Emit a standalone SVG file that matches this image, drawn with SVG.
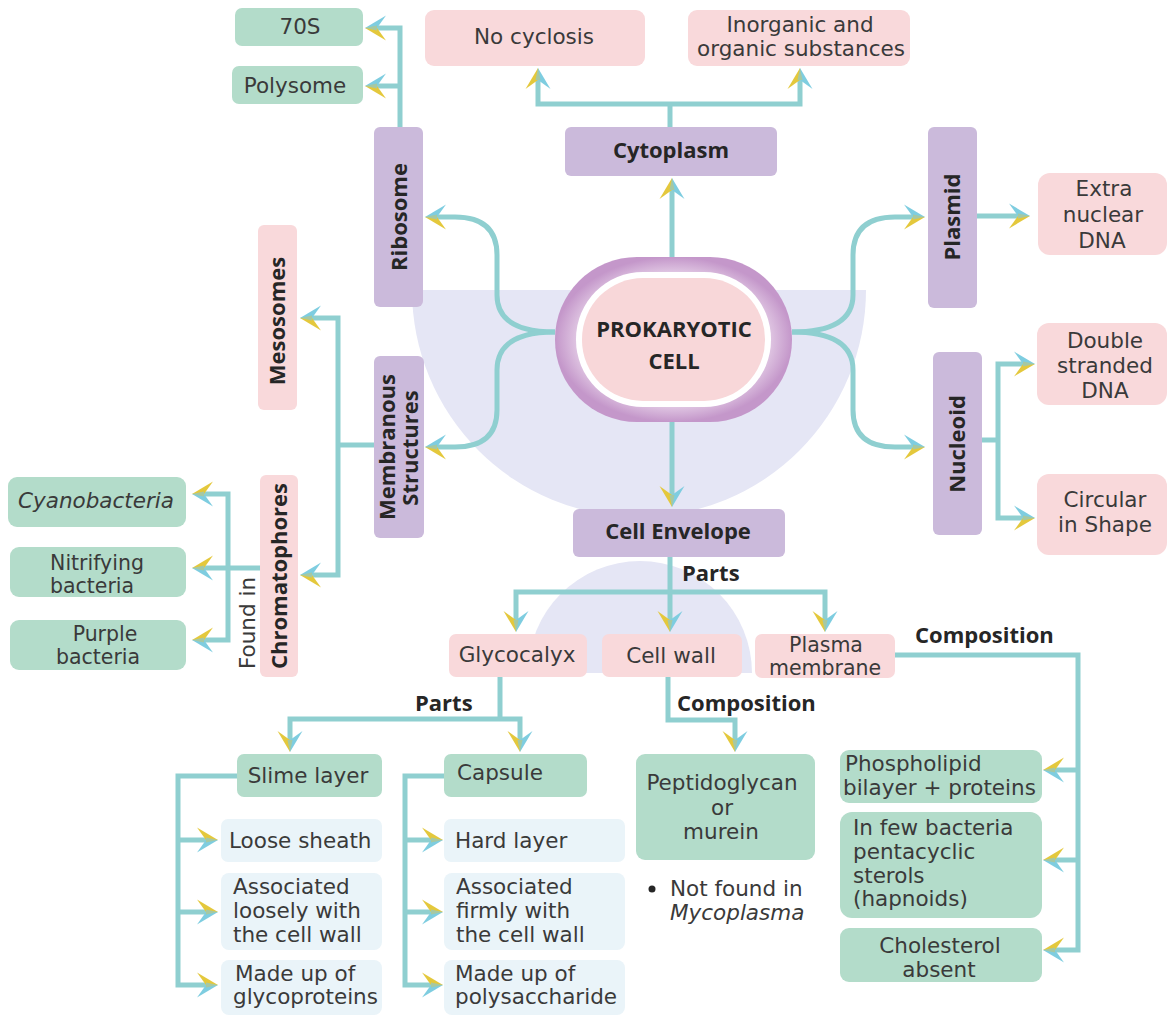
<svg xmlns="http://www.w3.org/2000/svg" width="1167" height="1015" viewBox="0 0 1167 1015">
<defs>
<style>
.t{font-family:"DejaVu Sans","Open Sans","Liberation Sans",sans-serif;font-size:21.5px;fill:#3a3a3a;}
.s{font-size:20.5px;}
.b{font-family:"Open Sans","Noto Sans","Liberation Sans",sans-serif;font-size:22px;font-weight:700;fill:#262626;}
.c{text-anchor:middle;}
.pu{fill:#cbbadb;}
.pk{fill:#f9d9db;}
.gr{fill:#b3dcca;}
.lb{fill:#eaf4f9;}
.ln{fill:none;stroke:#8fcfd0;stroke-width:5;stroke-linejoin:miter;}
</style>
<marker id="arrY" viewBox="-23 -14 25 28" markerWidth="25" markerHeight="28" refX="-10" refY="0" orient="auto" markerUnits="userSpaceOnUse">
<polygon points="0,0 -21,-12.5 -12,0" fill="#7ecde0"/>
<polygon points="0,0 -12,0 -21,12.5" fill="#e4c83c"/>
<polygon points="0,0 -12,-2.5 -12,2.5" fill="#a6c8a2"/>
</marker>
<marker id="arrB" viewBox="-23 -14 25 28" markerWidth="25" markerHeight="28" refX="-10" refY="0" orient="auto" markerUnits="userSpaceOnUse">
<polygon points="0,0 -21,-12.5 -12,0" fill="#e4c83c"/>
<polygon points="0,0 -12,0 -21,12.5" fill="#7ecde0"/>
<polygon points="0,0 -12,-2.5 -12,2.5" fill="#a6c8a2"/>
</marker>
<radialGradient id="ring" cx="0.5" cy="0.5" r="0.5">
<stop offset="0.7" stop-color="#f0e2f1"/>
<stop offset="1" stop-color="#c497ca"/>
</radialGradient>
</defs>

<g id="backgrounds">
<path d="M412,290 L866,290 A227,227 0 0 1 412,290 Z" fill="#e5e6f5"/>
<path d="M528,673 A112,112 0 0 1 752,673 Z" fill="#e5e6f5"/>
</g>

<g id="connectors">
<path class="ln" d="M400,127 L400,28 L375,28" marker-end="url(#arrB)"/>
<path class="ln" d="M400,86 L375,86" marker-end="url(#arrB)"/>
<path class="ln" d="M670,127 L670,104"/>
<path class="ln" d="M670,104 L538,104 L538,78" marker-end="url(#arrB)"/>
<path class="ln" d="M670,104 L800,104 L800,78" marker-end="url(#arrB)"/>
<path class="ln" d="M672,258 L672,188" marker-end="url(#arrB)"/>
<path class="ln" d="M555,332 Q497,332 497,295 L497,255 Q497,217 455,217 L435,217" marker-end="url(#arrB)"/>
<path class="ln" d="M555,332 Q497,332 497,370 L497,410 Q497,447 455,447 L435,447" marker-end="url(#arrB)"/>
<path class="ln" d="M792,332 Q853,332 853,295 L853,255 Q853,217 895,217 L915,217" marker-end="url(#arrY)"/>
<path class="ln" d="M792,332 Q853,332 853,370 L853,410 Q853,447 895,447 L915,447" marker-end="url(#arrY)"/>
<path class="ln" d="M977,216 L1020,216" marker-end="url(#arrY)"/>
<path class="ln" d="M982,440 L998,440"/>
<path class="ln" d="M998,440 L998,364 L1025,364" marker-end="url(#arrY)"/>
<path class="ln" d="M998,440 L998,518 L1025,518" marker-end="url(#arrY)"/>
<path class="ln" d="M374,445 L338,445"/>
<path class="ln" d="M338,445 L338,318 L310,318" marker-end="url(#arrB)"/>
<path class="ln" d="M338,445 L338,575 L310,575" marker-end="url(#arrB)"/>
<path class="ln" d="M260,568 L202,568" marker-end="url(#arrY)"/>
<path class="ln" d="M228,568 L228,494 L202,494" marker-end="url(#arrY)"/>
<path class="ln" d="M228,568 L228,640 L202,640" marker-end="url(#arrY)"/>
<path class="ln" d="M672,422 L672,497" marker-end="url(#arrY)"/>
<path class="ln" d="M670,557 L670,592"/>
<path class="ln" d="M670,592 L670,622" marker-end="url(#arrY)"/>
<path class="ln" d="M670,592 L516,592 L516,622" marker-end="url(#arrY)"/>
<path class="ln" d="M670,592 L825,592 L825,622" marker-end="url(#arrY)"/>
<path class="ln" d="M500,677 L500,719"/>
<path class="ln" d="M500,719 L290,719 L290,742" marker-end="url(#arrY)"/>
<path class="ln" d="M500,719 L520,719 L520,742" marker-end="url(#arrY)"/>
<path class="ln" d="M668,677 L668,720 L735,720 L735,742" marker-end="url(#arrY)"/>
<path class="ln" d="M895,655 L1078,655 L1078,950 L1053,950" marker-end="url(#arrY)"/>
<path class="ln" d="M1078,770 L1053,770" marker-end="url(#arrY)"/>
<path class="ln" d="M1078,860 L1053,860" marker-end="url(#arrY)"/>
<path class="ln" d="M237,776 L178,776 L178,985 L208,985" marker-end="url(#arrB)"/>
<path class="ln" d="M178,840 L208,840" marker-end="url(#arrB)"/>
<path class="ln" d="M178,912 L208,912" marker-end="url(#arrB)"/>
<path class="ln" d="M444,776 L405,776 L405,985 L433,985" marker-end="url(#arrB)"/>
<path class="ln" d="M405,840 L433,840" marker-end="url(#arrB)"/>
<path class="ln" d="M405,912 L433,912" marker-end="url(#arrB)"/>
</g>

<g id="edge-labels">
<text class="b" x="682" y="581">Parts</text>
<text class="b" x="415" y="711">Parts</text>
<text class="b" x="677" y="711">Composition</text>
<text class="b" x="915" y="643">Composition</text>
<text class="t c" transform="translate(255,623) rotate(-90)">Found in</text>
</g>

<g id="cell">
<rect x="555" y="257" width="237" height="165" rx="82" fill="url(#ring)"/>
<rect x="576" y="272" width="195" height="135" rx="67" fill="#ffffff"/>
<rect x="582" y="278" width="183" height="123" rx="61" fill="#f8d7d9"/>
<text class="b c" x="674" y="337">PROKARYOTIC</text>
<text class="b c" x="674" y="369">CELL</text>
</g>

<g id="n-70s"><rect class="gr" x="235" y="8" width="128" height="38" rx="7"/><text class="t c" x="300" y="34">70S</text></g>
<g id="n-polysome"><rect class="gr" x="232" y="66" width="131" height="38" rx="7"/><text class="t c" x="295" y="93">Polysome</text></g>
<g id="n-nocyclosis"><rect class="pk" x="425" y="10" width="220" height="56" rx="9"/><text class="t c" x="534" y="44">No cyclosis</text></g>
<g id="n-inorganic"><rect class="pk" x="688" y="10" width="222" height="56" rx="9"/><text class="t c" x="800" y="32">Inorganic and</text><text class="t c" x="801" y="56">organic substances</text></g>
<g id="n-cytoplasm"><rect class="pu" x="565" y="127" width="212" height="49" rx="6"/><text class="b c" x="671" y="158">Cytoplasm</text></g>
<g id="n-plasmid"><rect class="pu" x="928" y="127" width="49" height="181" rx="6"/><text class="b c" transform="translate(960,217) rotate(-90)">Plasmid</text></g>
<g id="n-extra"><rect class="pk" x="1038" y="173" width="129" height="82" rx="12"/><text class="t c" x="1104" y="196">Extra</text><text class="t c" x="1103" y="222">nuclear</text><text class="t c" x="1102" y="248">DNA</text></g>
<g id="n-ribosome"><rect class="pu" x="374" y="127" width="49" height="180" rx="6"/><text class="b c" transform="translate(407,217) rotate(-90)">Ribosome</text></g>
<g id="n-mesosomes"><rect class="pk" x="258" y="225" width="39" height="185" rx="6"/><text class="b c" transform="translate(285,321) rotate(-90)">Mesosomes</text></g>
<g id="n-membranous"><rect class="pu" x="374" y="356" width="50" height="182" rx="6"/><text class="b c" transform="translate(395,447) rotate(-90)">Membranous</text><text class="b c" transform="translate(418,448) rotate(-90)">Structures</text></g>
<g id="n-chromatophores"><rect class="pk" x="260" y="475" width="38" height="202" rx="6"/><text class="b c" transform="translate(287,576) rotate(-90)">Chromatophores</text></g>
<g id="n-cyano"><rect class="gr" x="8" y="477" width="178" height="50" rx="9"/><text class="t c" x="96" y="508" font-style="italic">Cyanobacteria</text></g>
<g id="n-nitrifying"><rect class="gr" x="10" y="547" width="176" height="50" rx="9"/><text class="t s c" x="97" y="570">Nitrifying</text><text class="t s c" x="92" y="593">bacteria</text></g>
<g id="n-purple"><rect class="gr" x="10" y="620" width="176" height="50" rx="9"/><text class="t s c" x="105" y="641">Purple</text><text class="t s c" x="98" y="664">bacteria</text></g>
<g id="n-nucleoid"><rect class="pu" x="933" y="352" width="49" height="183" rx="6"/><text class="b c" transform="translate(965,444) rotate(-90)">Nucleoid</text></g>
<g id="n-double"><rect class="pk" x="1037" y="323" width="130" height="82" rx="12"/><text class="t c" x="1105" y="348">Double</text><text class="t c" x="1105" y="373">stranded</text><text class="t c" x="1105" y="398">DNA</text></g>
<g id="n-circular"><rect class="pk" x="1037" y="474" width="130" height="81" rx="12"/><text class="t c" x="1105" y="507">Circular</text><text class="t c" x="1105" y="532">in Shape</text></g>
<g id="n-envelope"><rect class="pu" x="573" y="509" width="212" height="48" rx="6"/><text class="b c" x="678" y="539">Cell Envelope</text></g>
<g id="n-glycocalyx"><rect class="pk" x="449" y="634" width="138" height="43" rx="7"/><text class="t c" x="517" y="662">Glycocalyx</text></g>
<g id="n-cellwall"><rect class="pk" x="602" y="634" width="140" height="43" rx="7"/><text class="t c" x="671" y="663">Cell wall</text></g>
<g id="n-plasma"><rect class="pk" x="755" y="634" width="140" height="44" rx="7"/><text class="t s c" x="826" y="652">Plasma</text><text class="t s c" x="825" y="675">membrane</text></g>
<g id="n-slime"><rect class="gr" x="237" y="754" width="145" height="43" rx="7"/><text class="t c" x="308" y="783">Slime layer</text></g>
<g id="n-capsule"><rect class="gr" x="444" y="754" width="143" height="43" rx="7"/><text class="t" x="457" y="780">Capsule</text></g>
<g id="n-peptido"><rect class="gr" x="636" y="754" width="179" height="106" rx="9"/><text class="t c" x="722" y="790">Peptidoglycan</text><text class="t c" x="722" y="815">or</text><text class="t c" x="721" y="839">murein</text></g>
<g id="n-notfound"><circle cx="652" cy="889" r="3.5" fill="#262626"/><text class="t" x="670" y="896">Not found in</text><text class="t" x="670" y="920" font-style="italic">Mycoplasma</text></g>
<g id="n-loose"><rect class="lb" x="221" y="819" width="161" height="43" rx="7"/><text class="t" x="229" y="848">Loose sheath</text></g>
<g id="n-assocloose"><rect class="lb" x="221" y="873" width="161" height="77" rx="8"/><text class="t" x="233" y="894">Associated</text><text class="t" x="233" y="918">loosely with</text><text class="t" x="233" y="942">the cell wall</text></g>
<g id="n-glycoproteins"><rect class="lb" x="221" y="960" width="161" height="55" rx="8"/><text class="t" x="235" y="981">Made up of</text><text class="t" x="233" y="1004">glycoproteins</text></g>
<g id="n-hard"><rect class="lb" x="444" y="819" width="181" height="43" rx="7"/><text class="t" x="455" y="848">Hard layer</text></g>
<g id="n-assocfirm"><rect class="lb" x="444" y="873" width="181" height="77" rx="8"/><text class="t" x="456" y="894">Associated</text><text class="t" x="456" y="918">firmly with</text><text class="t" x="456" y="942">the cell wall</text></g>
<g id="n-polysaccharide"><rect class="lb" x="444" y="960" width="181" height="55" rx="8"/><text class="t" x="455" y="981">Made up of</text><text class="t" x="455" y="1004">polysaccharide</text></g>
<g id="n-phospholipid"><rect class="gr" x="840" y="750" width="202" height="53" rx="9"/><text class="t" x="845" y="771">Phospholipid</text><text class="t" x="843" y="795">bilayer + proteins</text></g>
<g id="n-sterols"><rect class="gr" x="840" y="812" width="202" height="106" rx="12"/><text class="t" x="853" y="835">In few bacteria</text><text class="t" x="853" y="859">pentacyclic</text><text class="t" x="853" y="883">sterols</text><text class="t" x="853" y="906">(hapnoids)</text></g>
<g id="n-cholesterol"><rect class="gr" x="840" y="928" width="202" height="54" rx="9"/><text class="t c" x="940" y="953">Cholesterol</text><text class="t c" x="939" y="977">absent</text></g>
</svg>
